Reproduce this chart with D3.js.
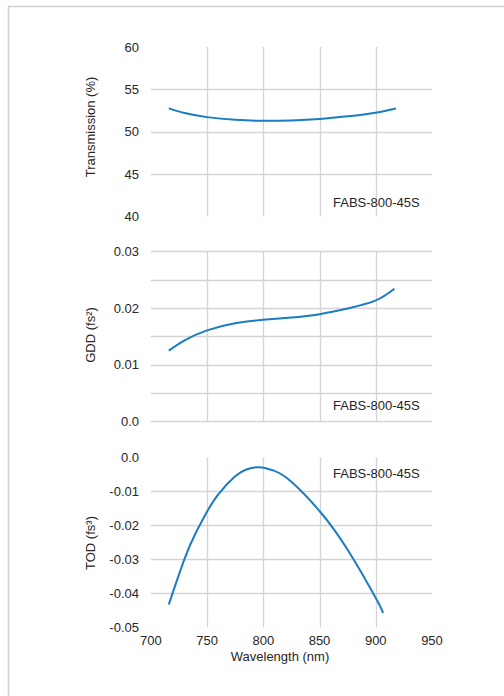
<!DOCTYPE html>
<html><head><meta charset="utf-8">
<script src="https://cdn.jsdelivr.net/npm/d3@7"></script>
<style>html,body{margin:0;padding:0;background:#fff}</style>
</head><body>
<script>
// Data
const wlTicks = [700, 750, 800, 850, 900, 950];
const transWl = [716, 730, 750, 775, 800, 825, 850, 875, 900, 918];
const transVals = [52.75, 52.2, 51.72, 51.4, 51.28, 51.33, 51.5, 51.82, 52.25, 52.75];
const gddWl = [716, 730, 750, 775, 800, 825, 850, 875, 900, 916.6];
const gddVals = [0.01247, 0.0143, 0.01605, 0.0173, 0.0179, 0.0183, 0.0189, 0.0199, 0.02134, 0.0234];
const todWl = [716, 730, 740, 750, 760, 775, 785, 796, 810, 825, 850, 875, 900, 906.5];
const todVals = [-0.0433, -0.0299, -0.0222, -0.0160, -0.0109, -0.0056, -0.0036, -0.0029, -0.0040, -0.0072, -0.0158, -0.0272, -0.0414, -0.0458];
const transTicks = [40, 45, 50, 55, 60];
const gddTicks = [0.0, 0.01, 0.02, 0.03];
const gddGrid = [0, 0.005, 0.01, 0.015, 0.02, 0.025, 0.03];
const todTicks = [0.0, -0.01, -0.02, -0.03, -0.04, -0.05];
const label = "FABS-800-45S";

const W = 504, H = 696;
const svg = d3.select("body").append("svg").attr("width", W).attr("height", H);
const font = "'Liberation Sans', Arial, sans-serif";
const textCol = "#262626";
const gridCol = "#d4d4d4";
const lineCol = "#1a7cc2";

svg.append("rect").attr("x", 8.5).attr("y", 6.5).attr("width", 520).attr("height", 720)
  .attr("fill", "none").attr("stroke", "#cfcfcf").attr("stroke-width", 1.5);

const x = d3.scaleLinear().domain([700, 950]).range([150.8, 432]);
const vGrid = [750, 800, 850, 900];

function panel(cfg) {
  const y = d3.scaleLinear().domain(cfg.domain).range(cfg.range);
  const g = svg.append("g");
  g.selectAll(".hg").data(cfg.hgrid).enter().append("line")
    .attr("x1", x(700)).attr("x2", x(950))
    .attr("y1", d => Math.round(y(d)) + 0.5).attr("y2", d => Math.round(y(d)) + 0.5)
    .attr("stroke", gridCol).attr("stroke-width", 1.3);
  g.selectAll(".vg").data(vGrid).enter().append("line")
    .attr("x1", d => Math.round(x(d)) + 0.5).attr("x2", d => Math.round(x(d)) + 0.5)
    .attr("y1", y(cfg.domain[1])).attr("y2", y(cfg.domain[0]))
    .attr("stroke", gridCol).attr("stroke-width", 1.3);
  g.selectAll(".yt").data(cfg.ticks).enter().append("text")
    .attr("x", 139).attr("y", d => y(d)).attr("dy", "0.35em")
    .attr("text-anchor", "end").attr("font-family", font).attr("font-size", 13)
    .attr("fill", textCol).text(cfg.fmt);
  g.append("text")
    .attr("transform", `translate(95,${cfg.titleY}) rotate(-90)`)
    .attr("text-anchor", "middle").attr("font-family", font).attr("font-size", 13)
    .attr("fill", textCol).text(cfg.title);
  g.append("text").attr("x", 333).attr("y", cfg.annY).attr("dy", "0.35em")
    .attr("font-family", font).attr("font-size", 13).attr("fill", textCol).text(label);
  const pts = cfg.xs.map((d, i) => [d, cfg.ys[i]]);
  g.append("path").datum(pts)
    .attr("d", d3.line().x(d => x(d[0])).y(d => y(d[1])).curve(d3.curveNatural))
    .attr("fill", "none").attr("stroke", lineCol).attr("stroke-width", 2);
  return y;
}

panel({domain: [40, 60], range: [216.4, 47], hgrid: [45, 50, 55], ticks: transTicks,
  fmt: d => d3.format("d")(d), title: "Transmission (%)", titleY: 127, annY: 202,
  xs: transWl, ys: transVals});

panel({domain: [0, 0.03], range: [421.3, 251.3], hgrid: gddGrid, ticks: gddTicks,
  fmt: d => d === 0 ? "0.0" : d3.format(".2f")(d), title: "GDD (fs²)", titleY: 335, annY: 405.7,
  xs: gddWl, ys: gddVals});

panel({domain: [-0.05, 0], range: [627.3, 457.3], hgrid: [-0.01, -0.02, -0.03, -0.04], ticks: todTicks,
  fmt: d => d === 0 ? "0.0" : d3.format(".2f")(d).replace("−", "-"), title: "TOD (fs³)", titleY: 543, annY: 473.3,
  xs: todWl, ys: todVals});

svg.selectAll(".xt").data(wlTicks).enter().append("text")
  .attr("x", d => x(d)).attr("y", 640).attr("dy", "0.35em")
  .attr("text-anchor", "middle").attr("font-family", font).attr("font-size", 13)
  .attr("fill", textCol).text(d => d);
svg.append("text").attr("x", 280).attr("y", 656).attr("dy", "0.35em")
  .attr("text-anchor", "middle").attr("font-family", font).attr("font-size", 13)
  .attr("fill", textCol).text("Wavelength (nm)");
</script>
</body></html>
